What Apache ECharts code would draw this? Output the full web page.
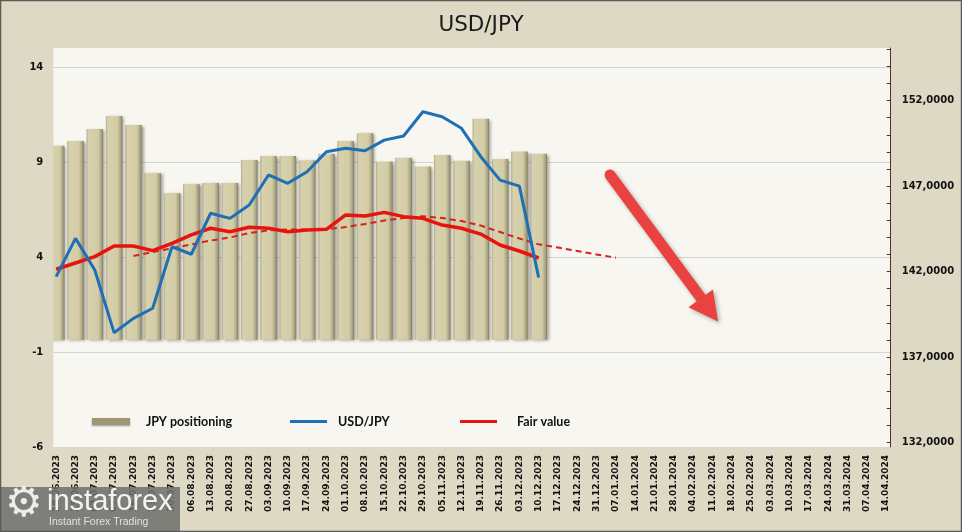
<!DOCTYPE html>
<html><head><meta charset="utf-8">
<script src="https://cdn.jsdelivr.net/npm/echarts@6/dist/echarts.min.js"></script>
<style>html,body{margin:0;padding:0;background:#ddd9c4}#c{width:962px;height:532px}</style>
</head><body><div id="c"></div><script>
// ---- data ----
const dates = ['18.06.2023','25.06.2023','02.07.2023','09.07.2023','16.07.2023','23.07.2023','30.07.2023','06.08.2023','13.08.2023','20.08.2023','27.08.2023','03.09.2023','10.09.2023','17.09.2023','24.09.2023','01.10.2023','08.10.2023','15.10.2023','22.10.2023','29.10.2023','05.11.2023','12.11.2023','19.11.2023','26.11.2023','03.12.2023','10.12.2023','17.12.2023','24.12.2023','31.12.2023','07.01.2024','14.01.2024','21.01.2024','28.01.2024','04.02.2024','11.02.2024','18.02.2024','25.02.2024','03.03.2024','10.03.2024','17.03.2024','24.03.2024','31.03.2024','07.04.2024','14.04.2024'];
// bar heights measured from the bar baseline (left-axis units)
const positioning = [10.21,10.46,11.09,11.77,11.30,8.76,7.71,8.18,8.24,8.24,9.46,9.67,9.67,9.43,9.78,10.46,10.86,9.37,9.58,9.11,9.72,9.41,11.62,9.51,9.90,9.79];
const usdjpy = [141.70,143.94,142.09,138.42,139.26,139.85,143.45,143.01,145.41,145.11,145.89,147.65,147.16,147.84,149.01,149.21,149.07,149.69,149.93,151.35,151.06,150.38,148.72,147.35,147.00,141.64];
const fairValue = [142.13,142.50,142.87,143.49,143.49,143.22,143.65,144.14,144.53,144.33,144.59,144.53,144.33,144.43,144.47,145.31,145.25,145.46,145.21,145.11,144.72,144.53,144.19,143.55,143.20,142.79];
const fairValueTrend = [null,null,null,null,142.91,143.14,143.36,143.59,143.81,143.99,144.25,144.41,144.46,144.46,144.47,144.60,144.78,144.98,145.13,145.23,145.13,144.95,144.69,144.31,143.93,143.59,143.40,143.20,143.00,142.81];
const leftTicks = [-6,-1,4,9,14];
const leftGrid = [-1,4,9,14];
const rightTicks = [132,137,142,147,152];
const rightMinorTicks = [132,133,134,135,136,137,138,139,140,141,142,143,144,145,146,147,148,149,150,151,152,153,154,155];
const seriesNames = ['JPY positioning','USD/JPY','Fair value'];

const pairs = arr => arr.map((v,i)=>[i,v]);
const chart = echarts.init(document.getElementById('c'), null, {renderer:'canvas'});
const axisFont = {fontFamily:'DejaVu Sans', fontWeight:'bold', color:'#111'};
const legendText = {fontFamily:'Lato', fontWeight:'bold', fontSize:12.5, color:'#111'};

const barGrad = new echarts.graphic.LinearGradient(0,0,1,0,[
  {offset:0,color:'#b4ae8a'},{offset:0.12,color:'#d6d1ac'},{offset:0.7,color:'#d3cda7'},{offset:0.9,color:'#aaa480'},{offset:1,color:'#807b5d'}]);

chart.setOption({
  backgroundColor:'#ddd9c4',
  animation:false,
  title:{text:'USD/JPY', left:'center', top:9, textStyle:{fontFamily:'DejaVu Sans', fontWeight:'normal', fontSize:21.5, color:'#1a1a1a'}},
  grid:{left:53.3, right:71.3, top:48, bottom:85, show:true, backgroundColor:'#f7f6f1', borderWidth:0},
  legend:[
    {data:[{name:seriesNames[0], icon:'rect', itemStyle:{color:'#9d9872', shadowColor:'rgba(0,0,0,0.4)', shadowBlur:2, shadowOffsetY:1}}], left:92, top:415, padding:0, itemWidth:38, itemHeight:7, textStyle:Object.assign({padding:[0,0,0,11]},legendText)},
    {data:[{name:seriesNames[1], icon:'rect'}], left:290, top:415, padding:0, itemWidth:37, itemHeight:3, textStyle:Object.assign({padding:[0,0,0,6]},legendText)},
    {data:[{name:seriesNames[2], icon:'rect'}], left:460, top:415, padding:0, itemWidth:37, itemHeight:3, textStyle:Object.assign({padding:[0,0,0,15]},legendText)}
  ],
  xAxis:{type:'value', min:-0.15, max:43.24,
    axisLine:{show:false}, axisTick:{show:false}, splitLine:{show:false},
    axisLabel:Object.assign({customValues:dates.map((d,i)=>i), formatter:v=>dates[Math.round(v)], rotate:90, fontSize:9, margin:8}, axisFont)},
  yAxis:[
    {type:'value', min:-6, max:15, position:'left',
      axisLine:{show:false}, axisTick:{show:false, customValues:leftGrid},
      axisLabel:Object.assign({customValues:leftTicks, fontSize:10, margin:10}, axisFont),
      splitLine:{show:true, lineStyle:{color:'#d3d3cf', width:1}}},
    {type:'value', min:131.73, max:155.08, position:'right',
      axisLine:{show:true, lineStyle:{color:'#5b2d2d', width:1}},
      axisTick:{show:true, inside:true, length:4, customValues:rightMinorTicks, lineStyle:{color:'#5b2d2d'}},
      axisLabel:Object.assign({customValues:rightTicks, fontSize:10, margin:11, formatter:v=>v.toFixed(4).replace('.',',')}, axisFont),
      splitLine:{show:false}},
    {type:'value', min:-5.65, max:15.35, show:false, splitLine:{show:false}}
  ],
  series:[
    {name:seriesNames[0], type:'bar', yAxisIndex:2, barWidth:16.5, clip:true, data:pairs(positioning),
      itemStyle:{color:barGrad, shadowColor:'rgba(0,0,0,0.35)', shadowBlur:3, shadowOffsetX:2, shadowOffsetY:1}, z:2},
    {name:'trend', type:'line', yAxisIndex:1, data:pairs(fairValueTrend), showSymbol:false, connectNulls:false,
      lineStyle:{color:'#d9201d', width:2, type:[6,4]}, z:3},
    {name:seriesNames[2], type:'line', yAxisIndex:1, data:pairs(fairValue), showSymbol:false,
      lineStyle:{color:'#e8130f', width:3.5}, itemStyle:{color:'#e8130f'}, z:4},
    {name:seriesNames[1], type:'line', yAxisIndex:1, data:pairs(usdjpy), showSymbol:false,
      lineStyle:{color:'#1f6fb6', width:3}, itemStyle:{color:'#1f6fb6'}, z:5}
  ],
  graphic:[
    // mask to clip the first bar at the plot edge
    {type:'rect', shape:{x:45, y:130, width:8.3, height:220}, style:{fill:'#ddd9c4'}, z:10, silent:true},
    {type:'line', shape:{x1:610, y1:175, x2:701, y2:298}, style:{stroke:'#e94241', lineWidth:11, lineCap:'round', shadowColor:'rgba(0,0,0,0.3)', shadowBlur:4, shadowOffsetX:2, shadowOffsetY:2}, z:50},
    {type:'polygon', shape:{points:[[688.5,307.2],[712.9,289.4],[718,321.6]]}, style:{fill:'#e94241', shadowColor:'rgba(0,0,0,0.3)', shadowBlur:4, shadowOffsetX:2, shadowOffsetY:2}, z:50},
    {type:'rect', shape:{x:0, y:487, width:180, height:45}, style:{fill:'rgba(112,112,110,0.86)'}, z:60},
    {type:'text', x:5, y:484, style:{text:'\u2699', font:'42px "DejaVu Sans"', fill:'#ececec'}, z:61},
    {type:'text', x:47, y:487, style:{text:'instaforex', font:'29px "Liberation Sans"', fill:'#f4f4f4'}, z:61},
    {type:'text', x:49, y:517, style:{text:'Instant Forex Trading', font:'10.5px "Liberation Sans"', fill:'#e0e0e0'}, z:61},
    {type:'rect', shape:{x:0.5, y:0.5, width:961, height:531}, style:{fill:'none', stroke:'#5a5a58', lineWidth:1.5}, z:70}
  ]
});
</script></body></html>
